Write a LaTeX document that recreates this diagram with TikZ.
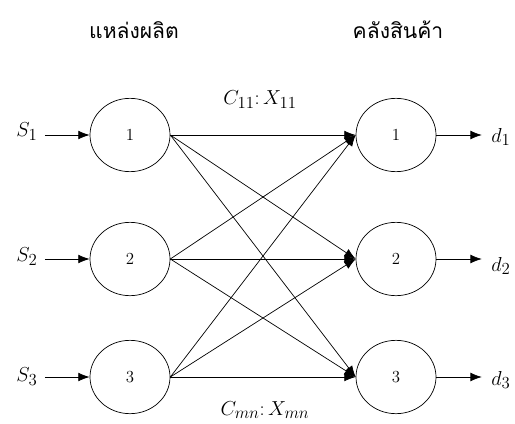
\documentclass[tikz,border=0pt]{standalone}
\usepackage{fontspec}
\newfontfamily\thaifont[Script=Thai]{Loma}
\usetikzlibrary{shapes.geometric, arrows.meta}
\tikzset{
  plant/.style = {
    ellipse, draw=black, semithick,
    minimum width=2.4cm, minimum height=2.2cm,
    inner sep=0pt, font=\Large
  },
  label/.style = {
    font=\fontsize{19}{22}\selectfont, inner sep=2pt
  },
  title/.style = {
    font=\thaifont\fontsize{18}{22}\selectfont
  },
  feed/.style = { draw=black, semithick, -{Latex[length=3.4mm, width=2.6mm]} },
  link/.style = { draw=black, semithick, -{Latex[length=3.4mm, width=2.6mm]} }
}

\begin{document}
\begin{tikzpicture}[x=0.03cm, y=-0.03cm]

    \useasboundingbox (0,0) rectangle (515,423);

    % ------------------------------------------------------------- Titles
    \node [title] (src_title) at (134, 30) {แหล่งผลิต};
    \node [title] (dst_title) at (398, 30) {คลังสินค้า};

    % ------------------------------------------------------------ Sources
    \node [plant] (p1) at (130, 135) {1};
    \node [plant] (p2) at (130, 259) {2};
    \node [plant] (p3) at (130, 377) {3};

    % --------------------------------------------------------- Warehouses
    \node [plant] (w1) at (396, 135) {1};
    \node [plant] (w2) at (396, 259) {2};
    \node [plant] (w3) at (396, 377) {3};

    % ------------------------------------------------------ Supply labels
    \node [label] (s1) at (27, 132) {$S_1$};
    \node [label] (s2) at (27, 257) {$S_2$};
    \node [label] (s3) at (27, 377) {$S_3$};

    % ------------------------------------------------------ Demand labels
    \node [label] (d1) at (501, 137) {$d_1$};
    \node [label] (d2) at (501, 266) {$d_2$};
    \node [label] (d3) at (501, 380) {$d_3$};

    % ------------------------------------------------------- Cost labels
    \node [label] (c11) at (260, 100) {$C_{11}\colon X_{11}$};
    \node [label] (cmn) at (265, 410) {$C_{mn}\colon X_{mn}$};

    % ---------------------------------------------------------- Connectors
    \draw [feed, shorten <=4pt] (s1.east |- p1.west) -- (p1.west);
    \draw [feed, shorten <=4pt] (s2.east |- p2.west) -- (p2.west);
    \draw [feed, shorten <=4pt] (s3.east |- p3.west) -- (p3.west);

    \draw [feed, shorten >=6pt] (w1.east) -- (w1.east -| d1.west);
    \draw [feed, shorten >=6pt] (w2.east) -- (w2.east -| d2.west);
    \draw [feed, shorten >=6pt] (w3.east) -- (w3.east -| d3.west);

    \foreach \i in {1,2,3}
      \foreach \j in {1,2,3}
        \draw [link] (p\i.east) -- (w\j.west);

\end{tikzpicture}
\end{document}
